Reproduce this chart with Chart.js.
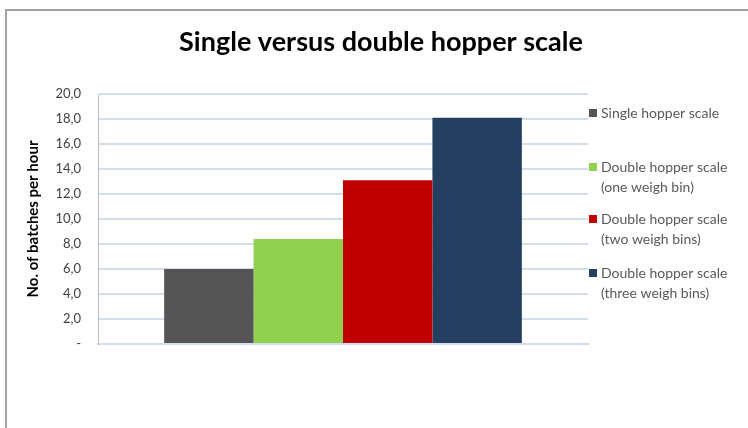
<!DOCTYPE html>
<html>
<head>
<meta charset="utf-8">
<script src="https://cdn.jsdelivr.net/npm/chart.js@4.4.1/dist/chart.umd.min.js"></script>
<style>
  html, body { margin: 0; padding: 0; background: #fff; overflow: hidden; }
  #frame {
    position: absolute; left: 5px; top: 9px; width: 800px; height: 500px;
    border-top: 2px solid #a3a3a3; border-left: 2px solid #a3a3a3;
  }
  #wrap { position: absolute; left: 0; top: 0; width: 748px; height: 428px; }
</style>
</head>
<body>
<div id="frame"></div>
<div id="wrap"><canvas id="chart" width="748" height="428"></canvas></div>
<script>
// Chart data
const categories = [''];
const seriesLabels = [
    ['Single hopper scale'],
    ['Double hopper scale', '(one weigh bin)'],
    ['Double hopper scale', '(two weigh bins)'],
    ['Double hopper scale', '(three weigh bins)']
];
const seriesValues = [6.0, 8.4, 13.1, 18.1];
const seriesColors = ['#555555', '#92d050', '#c00000', '#243f60'];
const yTicks = [0, 2, 4, 6, 8, 10, 12, 14, 16, 18, 20];

const chartTitle = 'Single versus double hopper scale';
const yAxisTitle = 'No. of batches per hour';

const FONT = 'Lato, "Open Sans", sans-serif';

// Title and legend drawn by hand (legend labels need two lines)
const decorPlugin = {
    id: 'decor',
    afterDraw(chart) {
        const ctx = chart.ctx;
        ctx.save();
        ctx.fillStyle = '#000';
        ctx.font = 'bold 27px ' + FONT;
        ctx.textAlign = 'center';
        ctx.textBaseline = 'middle';
        ctx.fillText(chartTitle, 381, 42);

        const itemY = [113, 167, 219, 273];
        ctx.font = '14px ' + FONT;
        ctx.textAlign = 'left';
        chart.data.datasets.forEach((ds, i) => {
            const y = itemY[i];
            ctx.fillStyle = ds.backgroundColor;
            ctx.fillRect(589, y - 4, 8, 8);
            ctx.fillStyle = '#595959';
            ds.label.forEach((line, j) => {
                ctx.fillText(line, 601, y + j * 20);
            });
        });
        ctx.restore();
    }
};

const ctx = document.getElementById('chart').getContext('2d');
const chart = new Chart(ctx, {
    type: 'bar',
    data: {
        labels: categories,
        datasets: seriesValues.map((v, i) => ({
            label: seriesLabels[i],
            data: [v],
            backgroundColor: seriesColors[i],
            borderWidth: 0,
            categoryPercentage: 0.73,
            barPercentage: 1.0
        }))
    },
    options: {
        responsive: false,
        animation: false,
        layout: { padding: { left: 18, top: 94, right: 160, bottom: 84 } },
        plugins: {
            legend: { display: false },
            title: { display: false },
            tooltip: { enabled: true }
        },
        scales: {
            x: {
                grid: { display: false },
                border: { color: '#d3deed', width: 2 },
                ticks: { display: false },
                afterFit(scale) { scale.height = 0; }
            },
            y: {
                min: 0,
                max: 20,
                afterBuildTicks(scale) { scale.ticks = yTicks.map(v => ({ value: v })); },
                ticks: {
                    padding: 17,
                    color: '#404040',
                    font: { family: FONT, size: 13 },
                    callback: v => v === 0 ? '-' : v.toFixed(1).replace('.', ',')
                },
                grid: { color: '#d3deed', lineWidth: 2, drawTicks: false },
                border: { color: '#bfbfbf', width: 1 },
                title: {
                    display: true,
                    text: yAxisTitle,
                    color: '#000',
                    font: { family: FONT, size: 15, weight: 'bold' },
                    padding: { top: 6, bottom: 0 }
                },
                afterFit(scale) { scale.width = 80; }
            }
        }
    },
    plugins: [decorPlugin]
});
</script>
</body>
</html>
